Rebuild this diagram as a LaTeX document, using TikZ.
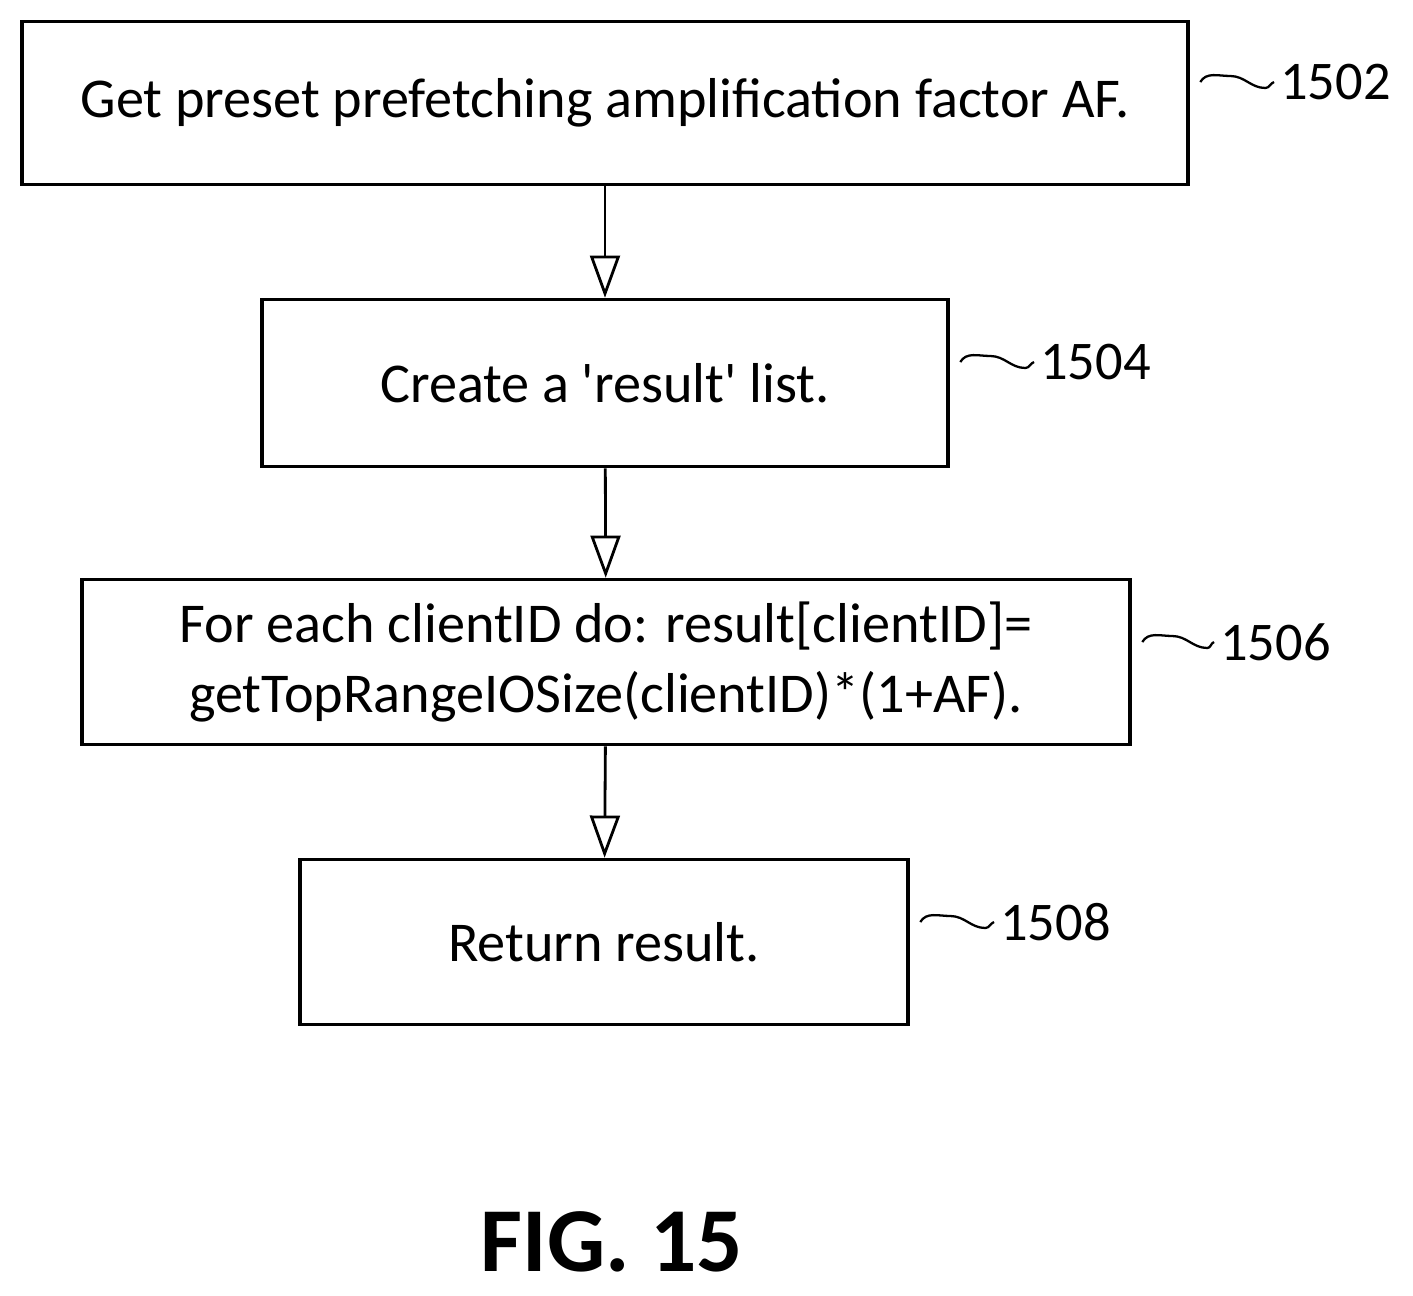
\documentclass[tikz,border=0pt]{standalone}
\usepackage{fontspec}
\setmainfont{Carlito}
\usetikzlibrary{arrows.meta, positioning}

\begin{document}
\begin{tikzpicture}[x=0.02cm, y=-0.02cm]
    \tikzstyle{stepbox} = [rectangle, draw=black, line width=2pt, text centered, font=\fontsize{32}{40}\selectfont, align=center, inner sep=0pt]
    \tikzstyle{ref} = [font=\fontsize{31}{36}\selectfont, anchor=west]
    \tikzstyle{arrow} = [line width=1.6pt, -{Triangle[open, length=24pt, width=17pt]}]
    \tikzstyle{tilde} = [line width=1.3pt]

    \useasboundingbox (0,0) rectangle (1413,1295);

    \node (get) [stepbox, minimum width=1166*0.02cm, minimum height=163*0.02cm] at (605,103) {Get preset prefetching amplification factor AF.};
    \node (create) [stepbox, minimum width=686*0.02cm, minimum height=167*0.02cm] at (605,383) {Create a \textquotesingle result\textquotesingle\ list.};
    \node (each) [stepbox, minimum width=1048*0.02cm, minimum height=165*0.02cm] at (606,662) {For each clientID do: result[clientID]=\\getTopRangeIOSize(clientID)*(1+AF).};
    \node (ret) [stepbox, minimum width=608*0.02cm, minimum height=165*0.02cm] at (604,942) {Return result.};

    \node (n1502) [ref] at (1274,82) {1502};
    \node (n1504) [ref] at (1034,362) {1504};
    \node (n1506) [ref] at (1214,642) {1506};
    \node (n1508) [ref] at (994,922) {1508};

    \node (fig) [font=\bfseries\fontsize{52}{60}\selectfont] at (612,1242) {FIG. 15};

    \draw [arrow] (get) -- (create);
    \draw [arrow] (create) -- (each);
    \draw [arrow] (each) -- (ret);

    \draw [tilde] ([xshift=6]get.east |- n1502.west) to[out=60,in=180] ++(30,-6) to[out=0,in=180] ++(35,12) to[out=0,in=200] (n1502.west);
    \draw [tilde] ([xshift=6]create.east |- n1504.west) to[out=60,in=180] ++(30,-6) to[out=0,in=180] ++(35,12) to[out=0,in=200] (n1504.west);
    \draw [tilde] ([xshift=6]each.east |- n1506.west) to[out=60,in=180] ++(30,-6) to[out=0,in=180] ++(35,12) to[out=0,in=200] (n1506.west);
    \draw [tilde] ([xshift=6]ret.east |- n1508.west) to[out=60,in=180] ++(30,-6) to[out=0,in=180] ++(35,12) to[out=0,in=200] (n1508.west);
\end{tikzpicture}
\end{document}
